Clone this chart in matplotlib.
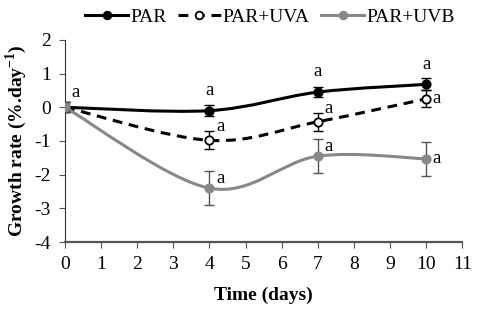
import numpy as np
import matplotlib
matplotlib.use('Agg')
import matplotlib.pyplot as plt
from matplotlib.path import Path
from matplotlib.patches import PathPatch

# Data
days = [0, 4, 7, 10]
par = [0.0, -0.10, 0.45, 0.68]
par_err = [0.15, 0.17, 0.15, 0.18]
par_uva = [0.0, -0.98, -0.43, 0.25]
par_uva_err = [0.15, 0.27, 0.27, 0.25]
par_uvb = [0.0, -2.40, -1.45, -1.53]
par_uvb_err = [0.15, 0.50, 0.50, 0.50]
labels = ['PAR', 'PAR+UVA', 'PAR+UVB']
letters = ['a', 'a', 'a', 'a']

plt.rcParams['font.family'] = ['Liberation Serif', 'DejaVu Serif']
plt.rcParams['axes.unicode_minus'] = False
plt.rcParams['mathtext.fontset'] = 'custom'
plt.rcParams['mathtext.rm'] = 'Liberation Serif'
plt.rcParams['mathtext.bf'] = 'Liberation Serif:bold'


def smooth_path(xs, ys, t=1 / 6):
    # Excel-like smoothed line drawn as cubic Bezier segments
    pts = np.column_stack([xs, ys]).astype(float)
    verts = [pts[0]]
    codes = [Path.MOVETO]
    n = len(pts)
    for i in range(n - 1):
        p0 = pts[i - 1] if i > 0 else pts[i]
        p1 = pts[i]
        p2 = pts[i + 1]
        p3 = pts[i + 2] if i + 2 < n else pts[i + 1]
        c1 = p1 + (p2 - p0) * t
        c2 = p2 - (p3 - p1) * t
        verts += [c1, c2, p2]
        codes += [Path.CURVE4] * 3
    return Path(verts, codes)


fig = plt.figure(figsize=(4.78, 3.14), dpi=100)
ax = fig.add_axes([0.136, 0.229, 0.831, 0.644])

series = [
    (par, par_err, 'black', '-', 'black'),
    (par_uva, par_uva_err, 'black', (0, (3.2, 2.2)), 'white'),
    (par_uvb, par_uvb_err, '#888888', '-', '#888888'),
]

handles = []
for (vals, errs, col, ls, face), lab in zip(series, labels):
    ax.add_patch(PathPatch(smooth_path(days, vals), facecolor='none',
                           edgecolor=col, lw=2.2, linestyle=ls, zorder=2))
    ax.errorbar(days, vals, yerr=errs, fmt='none', ecolor='#555555' if col != 'black' else col,
                elinewidth=1.0, capsize=3.5, capthick=1.0, zorder=3)
    ax.plot(days, vals, 'o', color=col, mfc=face, mec=col, ms=6, mew=1.3, zorder=4)
    h, = ax.plot([], [], color=col, ls=ls, lw=2.2, marker='o', mfc=face, mec=col,
                 ms=5.5, mew=1.3)
    handles.append(h)

# Significance letters
ax.text(0.3, 0.45, letters[0], fontsize=13.5, ha='center', va='center')
for x, y in zip(days[1:], par[1:]):
    ax.text(x, y + 0.6, 'a', fontsize=13.5, ha='center', va='center')
for x, y in zip(days[1:], par_uva[1:]):
    ax.text(x + 0.3, y + 0.4 if x < 10 else y, 'a', fontsize=13.5, ha='center', va='center')
for x, y in zip(days[1:], par_uvb[1:]):
    ax.text(x + 0.3, y + 0.3 if x < 10 else y, 'a', fontsize=13.5, ha='center', va='center')

ax.set_xlim(0, 11)
ax.set_ylim(-4, 2)
ax.set_xticks(range(0, 12))
ax.set_yticks(range(-4, 3))
ax.spines['top'].set_visible(False)
ax.spines['right'].set_visible(False)
ax.spines['left'].set_color('#333333')
ax.spines['bottom'].set_color('#555555')
ax.spines['bottom'].set_linewidth(1.6)
ax.tick_params(axis='both', labelsize=14, direction='out', length=4, color='#555555')
ax.tick_params(axis='y', pad=6)
ax.tick_params(axis='x', pad=6)

ax.set_xlabel('Time (days)', fontsize=14, fontweight='bold', labelpad=10)
ax.set_ylabel(r'Growth rate (%.day$^{\mathbf{-1}}$)', fontsize=14, fontweight='bold', labelpad=4)

fig.legend(handles, labels, loc='center', bbox_to_anchor=(0.565, 0.945), ncol=3,
           frameon=False, fontsize=14, handlelength=2.2, handletextpad=0.1,
           columnspacing=0.6, borderaxespad=0)

fig.savefig('out.png', dpi=100)
